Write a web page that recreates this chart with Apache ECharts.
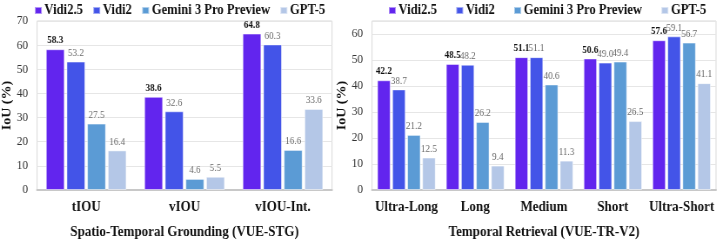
<!DOCTYPE html>
<html><head><meta charset="utf-8">
<script src="https://cdn.jsdelivr.net/npm/echarts@6/dist/echarts.min.js"></script>
<style>html,body{margin:0;padding:0;background:#fff;overflow:hidden;width:718px;height:245px}#c{height:245px;transform-origin:0 0}</style>
</head><body><div id="c"></div>
<script>
const seriesNames = ['Vidi2.5', 'Vidi2', 'Gemini 3 Pro Preview', 'GPT-5'];
const colors = ['#6225EE', '#4354E8', '#5B9BD5', '#B4C7E7'];

const stgCategories = ['tIOU', 'vIOU', 'vIOU-Int.'];
const stgVidi25 = [58.3, 38.6, 64.8];
const stgVidi2 = [53.2, 32.6, 60.3];
const stgGemini = [27.5, 4.6, 16.6];
const stgGpt5 = [16.4, 5.5, 33.6];

const trCategories = ['Ultra-Long', 'Long', 'Medium', 'Short', 'Ultra-Short'];
const trVidi25 = [42.2, 48.5, 51.1, 50.6, 57.6];
const trVidi2 = [38.7, 48.2, 51.1, 49.0, 59.1];
const trGemini = [21.2, 26.2, 40.6, 49.4, 56.7];
const trGpt5 = [12.5, 9.4, 11.3, 26.5, 41.1];

const leftTicks = [0, 10, 20, 30, 40, 50, 60, 70];
const rightTicks = [0, 10, 20, 30, 40, 50, 60];

const FONT = '"Liberation Serif", "Times New Roman", serif';
// the reference typography is horizontally condensed; draw wider and condense the whole canvas
const S = 0.87;
const X = v => v / S;
const el = document.getElementById('c');
el.style.width = X(718) + 'px';
el.style.transform = 'scaleX(' + S + ')';

function mkSeries(name, data, idx, gi, catGap, barGap) {
  const first = idx === 0;
  return {
    name: name, type: 'bar', xAxisIndex: gi, yAxisIndex: gi, data: data,
    barCategoryGap: catGap, barGap: barGap,
    itemStyle: { color: colors[idx], borderColor: 'rgba(255,255,255,0.5)', borderWidth: 1 },
    label: {
      show: true, position: 'top', distance: 3,
      fontFamily: FONT, fontSize: 10.5,
      fontWeight: first ? 'bold' : 'normal',
      color: first ? '#111' : '#6b6b6b',
      formatter: p => Number(p.value).toFixed(1)
    },
    emphasis: { disabled: true }
  };
}

const chart = echarts.init(el, null, { renderer: 'canvas' });
function yAxis(gi, max, ticks) {
  return {
    type: 'value', gridIndex: gi, min: 0, max: max, interval: 10,
    name: 'IoU (%)', nameLocation: 'middle', nameGap: X(24),
    nameTextStyle: { fontFamily: FONT, fontWeight: 'bold', fontSize: 14, color: '#111' },
    axisLine: { show: false }, axisTick: { show: false },
    axisLabel: { fontFamily: FONT, fontSize: 13, color: '#333', margin: X(9),
      showMaxLabel: ticks.indexOf(max) >= 0, formatter: v => ticks.indexOf(v) >= 0 ? String(v) : '' },
    splitLine: { lineStyle: { color: '#e6e6e6', width: 1 } }
  };
}
function xAxis(gi, cats, name) {
  return {
    type: 'category', gridIndex: gi, data: cats,
    name: name, nameLocation: 'middle', nameGap: 35,
    nameTextStyle: { fontFamily: FONT, fontWeight: 'bold', fontSize: 15, color: '#111' },
    axisLine: { lineStyle: { color: '#c8c8c8', width: 2 } }, axisTick: { show: false },
    axisLabel: { fontFamily: FONT, fontWeight: 'bold', fontSize: 15, color: '#111', margin: 10, interval: 0 }
  };
}
function legend(left, gap) {
  return {
    data: seriesNames, top: 3, left: X(left), itemWidth: 8, itemHeight: 7, itemGap: X(gap),
    icon: 'rect', selectedMode: false, padding: 0,
    textStyle: { fontFamily: FONT, fontWeight: 'bold', fontSize: 14.5, color: '#111', padding: [0, 0, 0, -2] }
  };
}
chart.setOption({
  animation: false,
  textStyle: { fontFamily: FONT },
  legend: [legend(34, 9.5), legend(388, 18.5)],
  grid: [
    { left: X(35), top: 21, width: X(297), height: 179, show: true, borderColor: '#d9d9d9', borderWidth: 1 },
    { left: X(372), top: 21, width: X(344), height: 179, show: true, borderColor: '#d9d9d9', borderWidth: 1 }
  ],
  xAxis: [xAxis(0, stgCategories, 'Spatio-Temporal Grounding (VUE-STG)'), xAxis(1, trCategories, 'Temporal Retrieval (VUE-TR-V2)')],
  yAxis: [yAxis(0, 70, leftTicks), yAxis(1, 65, rightTicks)],
  series: [
    mkSeries(seriesNames[0], stgVidi25, 0, 0, '18%', '10%'),
    mkSeries(seriesNames[1], stgVidi2, 1, 0, '18%', '10%'),
    mkSeries(seriesNames[2], stgGemini, 2, 0, '18%', '10%'),
    mkSeries(seriesNames[3], stgGpt5, 3, 0, '18%', '10%'),
    mkSeries(seriesNames[0], trVidi25, 0, 1, '15%', '12%'),
    mkSeries(seriesNames[1], trVidi2, 1, 1, '15%', '12%'),
    mkSeries(seriesNames[2], trGemini, 2, 1, '15%', '12%'),
    mkSeries(seriesNames[3], trGpt5, 3, 1, '15%', '12%')
  ]
});
</script></body></html>
